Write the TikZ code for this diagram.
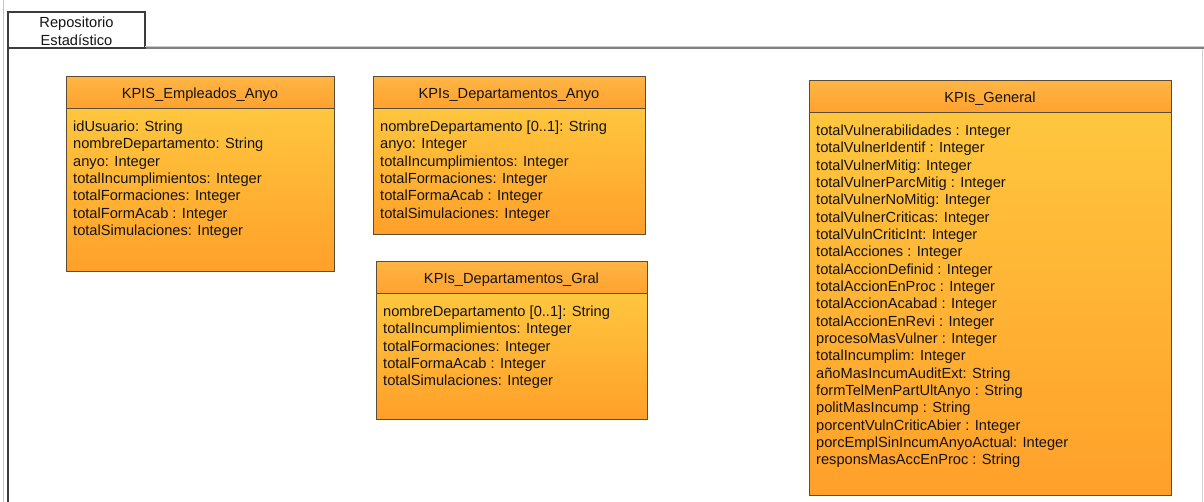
\documentclass[tikz,border=0pt]{standalone}
\usepackage{fontspec}
\setmainfont{Liberation Sans}

\definecolor{boxline}{HTML}{5A4C36}
\definecolor{headtop}{HTML}{FFB544}
\definecolor{headbot}{HTML}{FFA12E}
\definecolor{bodytop}{HTML}{FFC63E}
\definecolor{bodybot}{HTML}{FFA02A}
\definecolor{framecol}{HTML}{3C3C3C}
\definecolor{inktext}{HTML}{141414}

\newcommand\umlfont{\fontsize{14.7}{18.5}\selectfont}

\tikzset{
  classhead/.style={draw=boxline, line width=1bp, top color=headtop, bottom color=headbot,
    inner sep=0pt, outer sep=0pt, anchor=north west, minimum height=32bp},
  classbody/.style={draw=boxline, line width=1bp, top color=bodytop, bottom color=bodybot,
    inner sep=0pt, outer sep=0pt, anchor=north west},
  classtitle/.style={anchor=base, inner sep=0pt, font=\umlfont, text=inktext},
  attr/.style={anchor=base west, inner sep=0pt, font=\umlfont, text=inktext},
  frameline/.style={draw=framecol, line width=1.2bp},
}

% #1 id, #2 left x, #3 top y, #4 width, #5 body height, #6 class name, #7 attributes
\newcommand\umlclassbox[7]{%
  \node[classhead, minimum width=#4bp] (#1-head) at (#2,#3) {};
  \node[classbody, minimum width=#4bp, minimum height=#5bp] (#1-body) at (#1-head.south west) {};
  \node[classtitle] (#1-title) at ([yshift=-5.5bp]#1-head.center) {#6};
  \foreach \a [count=\k] in {#7}
    \node[attr] (#1-a\k) at ([xshift=7bp, yshift={-22.5bp-(\k-1)*17.33bp}]#1-body.north west) {\a};
}

\begin{document}
\begin{tikzpicture}[x=1bp, y=-1bp]
\useasboundingbox[fill=white] (0,0) rectangle (1204,502);

% window edges
\draw[gray!45, line width=1bp] (3,0) -- (3,502);
\draw[gray!35, line width=1bp] (1202.5,49) -- (1202.5,502);

% package frame with its name tab
\node[frameline, fill=white, anchor=north west, minimum width=137bp, minimum height=36bp,
      inner sep=0pt, outer sep=0pt] (tab) at (8,12) {};
\node[font=\umlfont, text=inktext, align=center, inner sep=0pt] (tabname)
      at ([yshift=-1bp]tab.center) {Repositorio\\Estadístico};
\coordinate (framebottom) at (8,502);
\coordinate (frameright) at (1204,48);
\draw[frameline] (tab.north west) -- (framebottom);
\draw[gray!40, line width=1bp] (tab.south east) ++(0,-1.2) -- ++(1060,0);
\draw[frameline] (tab.south west) -- (frameright);

\umlclassbox{emp}{66}{77}{268}{162}{KPIS\_Empleados\_Anyo}{%
  {idUsuario: String},
  {nombreDepartamento: String},
  {anyo: Integer},
  {totalIncumplimientos: Integer},
  {totalFormaciones: Integer},
  {totalFormAcab : Integer},
  {totalSimulaciones: Integer}}

\umlclassbox{depanyo}{373}{77}{272}{125}{KPIs\_Departamentos\_Anyo}{%
  {nombreDepartamento [0..1]: String},
  {anyo: Integer},
  {totalIncumplimientos: Integer},
  {totalFormaciones: Integer},
  {totalFormaAcab : Integer},
  {totalSimulaciones: Integer}}

\umlclassbox{depgral}{376}{262}{271}{125}{KPIs\_Departamentos\_Gral}{%
  {nombreDepartamento [0..1]: String},
  {totalIncumplimientos: Integer},
  {totalFormaciones: Integer},
  {totalFormaAcab : Integer},
  {totalSimulaciones: Integer}}

\umlclassbox{gen}{809}{81}{362}{382}{KPIs\_General}{%
  {totalVulnerabilidades : Integer},
  {totalVulnerIdentif : Integer},
  {totalVulnerMitig: Integer},
  {totalVulnerParcMitig : Integer},
  {totalVulnerNoMitig: Integer},
  {totalVulnerCriticas: Integer},
  {totalVulnCriticInt: Integer},
  {totalAcciones : Integer},
  {totalAccionDefinid : Integer},
  {totalAccionEnProc : Integer},
  {totalAccionAcabad : Integer},
  {totalAccionEnRevi : Integer},
  {procesoMasVulner : Integer},
  {totalIncumplim: Integer},
  {añoMasIncumAuditExt: String},
  {formTelMenPartUltAnyo : String},
  {politMasIncump : String},
  {porcentVulnCriticAbier : Integer},
  {porcEmplSinIncumAnyoActual: Integer},
  {responsMasAccEnProc : String}}

\end{tikzpicture}
\end{document}
